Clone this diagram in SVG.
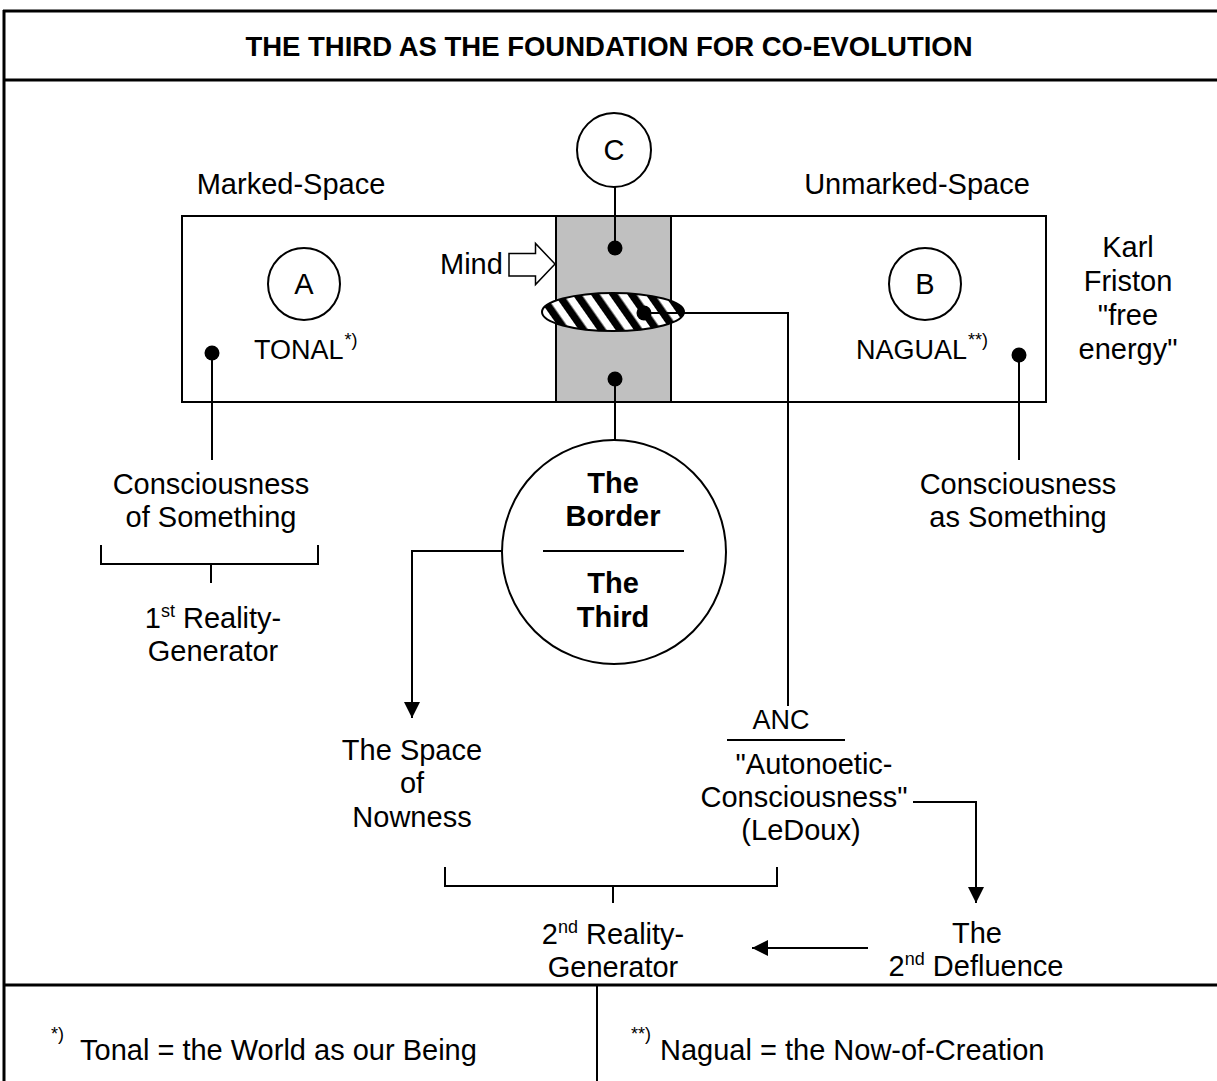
<svg xmlns="http://www.w3.org/2000/svg" width="1217" height="1081" viewBox="0 0 1217 1081">
<defs>
<style>
text{font-family:"Liberation Sans",Arial,sans-serif;font-size:29px;fill:#000}
.c{text-anchor:middle}
.b{font-weight:bold}
.t{font-size:27.5px;font-weight:bold}
.caps{font-size:27px}
.fn{font-size:29px}
.sup{font-size:18px}
.ln{stroke:#000;stroke-width:2;fill:none}
.frame{stroke:#000;stroke-width:3;fill:none}
.node{stroke:#000;stroke-width:2;fill:#fff}
.dot{fill:#000}
</style>
<marker id="ah" markerUnits="userSpaceOnUse" markerWidth="16" markerHeight="16" refX="16" refY="8" orient="auto">
<path d="M0,0 L16,8 L0,16 z" fill="#000"/>
</marker>
<pattern id="hatch" patternUnits="userSpaceOnUse" width="15" height="15" patternTransform="rotate(-35)">
<rect width="15" height="15" fill="#fff"/>
<rect width="7.5" height="15" fill="#000"/>
</pattern>
</defs>
<rect width="1217" height="1081" fill="#fff"/>
<g id="frame">
<line class="frame" x1="3" y1="11" x2="1217" y2="11"/>
<line class="frame" x1="4" y1="10" x2="4" y2="1081"/>
<line class="frame" x1="3" y1="80" x2="1217" y2="80"/>
<line class="frame" x1="3" y1="985" x2="1217" y2="985"/>
<line class="ln" x1="597" y1="985" x2="597" y2="1081"/>
</g>
<g id="title"><text class="c t" x="609" y="56">THE THIRD AS THE FOUNDATION FOR CO-EVOLUTION</text></g>
<g id="space-box">
<rect class="node" x="182" y="216" width="864" height="186"/>
<text class="c" x="291" y="194">Marked-Space</text>
<text class="c" x="917" y="194">Unmarked-Space</text>
</g>
<g id="border-column"><rect x="556" y="216" width="115" height="186" fill="#c0c0c0" stroke="#000" stroke-width="2"/></g>
<g id="node-c"><circle class="node" cx="614" cy="150" r="37"/><text class="c" x="614" y="160">C</text></g>
<g id="node-a"><circle class="node" cx="304" cy="284" r="36"/><text class="c" x="304" y="294">A</text></g>
<g id="node-b"><circle class="node" cx="925" cy="284" r="36"/><text class="c" x="925" y="294">B</text></g>
<g id="tonal"><text class="caps" x="254" y="359">TONAL<tspan class="sup" dx="1" dy="-13">*)</tspan></text></g>
<g id="nagual"><text class="caps" x="856" y="359">NAGUAL<tspan class="sup" dx="1" dy="-13">**)</tspan></text></g>
<g id="friston">
<text class="c" x="1128" y="257">Karl</text>
<text class="c" x="1128" y="291">Friston</text>
<text class="c" x="1128" y="325">"free</text>
<text class="c" x="1128" y="359">energy"</text>
</g>
<g id="mind">
<text x="440" y="274">Mind</text>
<polygon points="509,253.5 535.5,253.5 535.5,243.5 555,264 535.5,284.5 535.5,276 509,276" fill="#fff" stroke="#000" stroke-width="1.5"/>
</g>
<g id="hatched"><ellipse cx="613" cy="312" rx="71" ry="19" fill="url(#hatch)" stroke="#000" stroke-width="2"/></g>
<g id="the-border">
<circle class="node" cx="614" cy="552" r="112"/>
<line class="ln" x1="543" y1="551" x2="684" y2="551"/>
<text class="c b" x="613" y="493">The</text>
<text class="c b" x="613" y="526">Border</text>
<text class="c b" x="613" y="593">The</text>
<text class="c b" x="613" y="627">Third</text>
</g>
<g id="cons-of">
<text class="c" x="211" y="494">Consciousness</text>
<text class="c" x="211" y="527">of Something</text>
</g>
<g id="cons-as">
<text class="c" x="1018" y="494">Consciousness</text>
<text class="c" x="1018" y="527">as Something</text>
</g>
<g id="rg1">
<text class="c" x="213" y="628">1<tspan class="sup" dy="-11">st</tspan><tspan dy="11"> Reality-</tspan></text>
<text class="c" x="213" y="661">Generator</text>
</g>
<g id="nowness">
<text class="c" x="412" y="760">The Space</text>
<text class="c" x="412" y="793">of</text>
<text class="c" x="412" y="827">Nowness</text>
</g>
<g id="anc">
<text class="c" x="781" y="729" style="font-size:27px">ANC</text>
<line class="ln" x1="727" y1="740" x2="845" y2="740"/>
<text class="c" x="814" y="774">"Autonoetic-</text>
<text class="c" x="804" y="807">Consciousness"</text>
<text class="c" x="801" y="840">(LeDoux)</text>
</g>
<g id="rg2">
<text class="c" x="613" y="944">2<tspan class="sup" dy="-11">nd</tspan><tspan dy="11"> Reality-</tspan></text>
<text class="c" x="613" y="977">Generator</text>
</g>
<g id="defluence">
<text class="c" x="977" y="943">The</text>
<text class="c" x="976" y="976">2<tspan class="sup" dy="-11">nd</tspan><tspan dy="11"> Defluence</tspan></text>
</g>
<g id="footnote-tonal">
<text class="sup" x="51" y="1040">*)</text>
<text class="fn" x="80" y="1060">Tonal = the World as our Being</text>
</g>
<g id="footnote-nagual">
<text class="sup" x="631" y="1040">**)</text>
<text class="fn" x="660" y="1060">Nagual = the Now-of-Creation</text>
</g>
<g id="connectors">
<line class="ln" x1="615" y1="187" x2="615" y2="248"/>
<line class="ln" x1="615" y1="379" x2="615" y2="440"/>
<line class="ln" x1="212" y1="353" x2="212" y2="460"/>
<line class="ln" x1="1019" y1="355" x2="1019" y2="460"/>
<polyline class="ln" points="644,313 788,313 788,706"/>
<polyline class="ln" points="502,551 412,551 412,718" marker-end="url(#ah)"/>
<polyline class="ln" points="913,802 976,802 976,903" marker-end="url(#ah)"/>
<line class="ln" x1="868" y1="948" x2="752" y2="948" marker-end="url(#ah)"/>
<polyline class="ln" points="101,545 101,564 318,564 318,545"/>
<line class="ln" x1="211" y1="564" x2="211" y2="583"/>
<polyline class="ln" points="445,867 445,886 777,886 777,867"/>
<line class="ln" x1="613" y1="886" x2="613" y2="903"/>
<circle class="dot" cx="615" cy="248" r="7.5"/>
<circle class="dot" cx="615" cy="379" r="7.5"/>
<circle class="dot" cx="212" cy="353" r="7.5"/>
<circle class="dot" cx="1019" cy="355" r="7.5"/>
<circle class="dot" cx="644" cy="313" r="7.5"/>
</g>
</svg>
